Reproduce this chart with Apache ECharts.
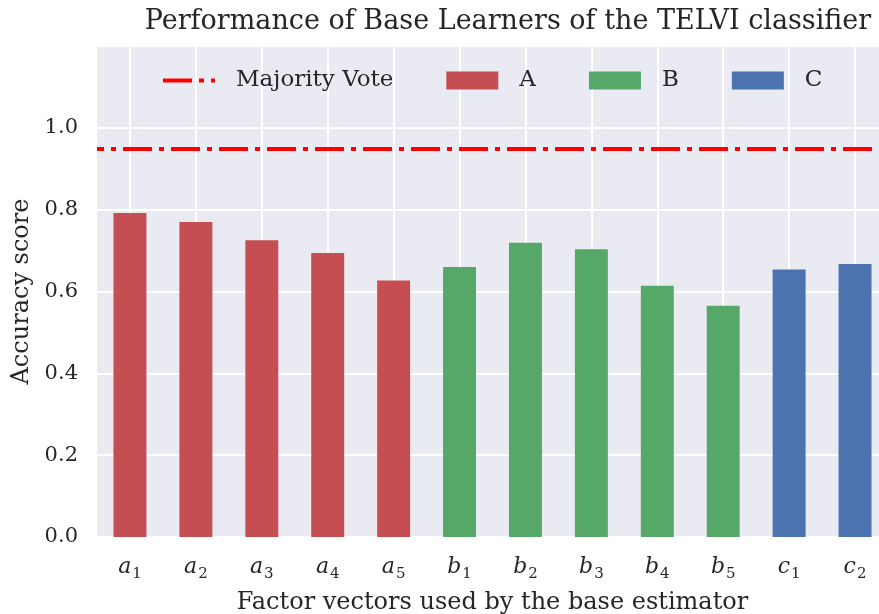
<!DOCTYPE html>
<html>
<head>
<meta charset="utf-8">
<script src="https://cdn.jsdelivr.net/npm/echarts@6/dist/echarts.min.js"></script>
<style>
  html, body { margin: 0; padding: 0; background: #fff; }
  #chart { width: 879px; height: 614px; }
</style>
</head>
<body>
<div id="chart"></div>
<script>
// categories: letter + subscript
const letters = ['a', 'a', 'a', 'a', 'a', 'b', 'b', 'b', 'b', 'b', 'c', 'c'];
const subs = ['1', '2', '3', '4', '5', '1', '2', '3', '4', '5', '1', '2'];
const categories = letters.map((l, i) => l + subs[i]);

// accuracy scores per group ('-' = not in group)
const valuesA = [0.792, 0.770, 0.725, 0.694, 0.627, '-', '-', '-', '-', '-', '-', '-'];
const valuesB = ['-', '-', '-', '-', '-', 0.660, 0.719, 0.703, 0.614, 0.565, '-', '-'];
const valuesC = ['-', '-', '-', '-', '-', '-', '-', '-', '-', '-', 0.654, 0.667];
const majorityVote = 0.948;

const yTicks = [0, 0.2, 0.4, 0.6, 0.8, 1.0];

const serif = 'DejaVu Serif';
const ink = '#262626';
const dashDot = [29, 7, 5, 7];

// legend icon for the dash-dot line (dash, dot, start of next dash), 52x18 box
const lineIcon = 'path://M0,0H0.01V18H0Z M0,7H29V11H0Z M36,7H41V11H36Z M48,7H52V11H48Z';

let chart = echarts.init(document.getElementById('chart'));

let option = {
    animation: false,
    title: {
        text: 'Performance of Base Learners of the TELVI classifier',
        left: 503, top: 3, textAlign: 'center',
        textStyle: { fontFamily: serif, fontWeight: 'normal', fontSize: 27, color: ink }
    },
    legend: {
        left: 158, top: 64,
        itemWidth: 52, itemHeight: 18,
        itemGap: 53,
        textStyle: { fontFamily: serif, fontSize: 23, color: ink, padding: [0, 0, 0, 16] },
        data: [
            { name: 'Majority Vote', icon: lineIcon, itemStyle: { color: '#FF0000' } },
            { name: 'A', icon: 'rect' },
            { name: 'B', icon: 'rect' },
            { name: 'C', icon: 'rect' }
        ]
    },
    grid: {
        left: 97, top: 46, right: -9, bottom: 77,
        outerBoundsMode: 'none',
        show: true, backgroundColor: '#EAEAF2', borderWidth: 0
    },
    xAxis: {
        type: 'category',
        data: categories,
        name: 'Factor vectors used by the base estimator',
        nameLocation: 'middle', nameGap: 54,
        nameTextStyle: { fontFamily: serif, fontSize: 24, color: ink },
        axisLine: { show: false },
        axisTick: { show: false },
        splitLine: { show: true, alignWithLabel: true, lineStyle: { color: '#fff', width: 2 } },
        axisLabel: {
            margin: 16,
            formatter: (v, i) => `{i|${letters[i]}}{s|${subs[i]}}`,
            rich: {
                i: { fontFamily: serif, fontStyle: 'italic', fontSize: 22, color: ink },
                s: { fontFamily: serif, fontSize: 15, color: ink, padding: [14, 0, 0, 1] }
            }
        }
    },
    yAxis: {
        type: 'value', min: 0, max: 1.2, interval: 0.2,
        name: 'Accuracy score',
        nameLocation: 'middle', nameGap: 62,
        nameTextStyle: { fontFamily: serif, fontSize: 24, color: ink },
        axisLine: { show: false },
        axisTick: { show: false },
        splitLine: { lineStyle: { color: '#fff', width: 2 } },
        axisLabel: {
            margin: 19,
            fontFamily: serif, fontSize: 21, color: ink,
            formatter: v => yTicks.some(t => Math.abs(t - v) < 1e-9) ? v.toFixed(1) : ''
        }
    },
    series: [
        {
            name: 'Majority Vote', type: 'line', data: [],
            symbol: 'none',
            itemStyle: { color: '#FF0000' },
            lineStyle: { color: '#FF0000', width: 4, type: dashDot },
            markLine: {
                silent: true, symbol: 'none', label: { show: false },
                lineStyle: { color: '#FF0000', width: 4, type: dashDot, dashOffset: 22 },
                data: [{ yAxis: majorityVote }]
            }
        },
        { name: 'A', type: 'bar', stack: 'g', barWidth: '50%', data: valuesA, itemStyle: { color: '#C44E52' } },
        { name: 'B', type: 'bar', stack: 'g', barWidth: '50%', data: valuesB, itemStyle: { color: '#55A868' } },
        { name: 'C', type: 'bar', stack: 'g', barWidth: '50%', data: valuesC, itemStyle: { color: '#4C72B0' } }
    ]
};

chart.setOption(option);
window.addEventListener('resize', () => chart.resize());
</script>
</body>
</html>
